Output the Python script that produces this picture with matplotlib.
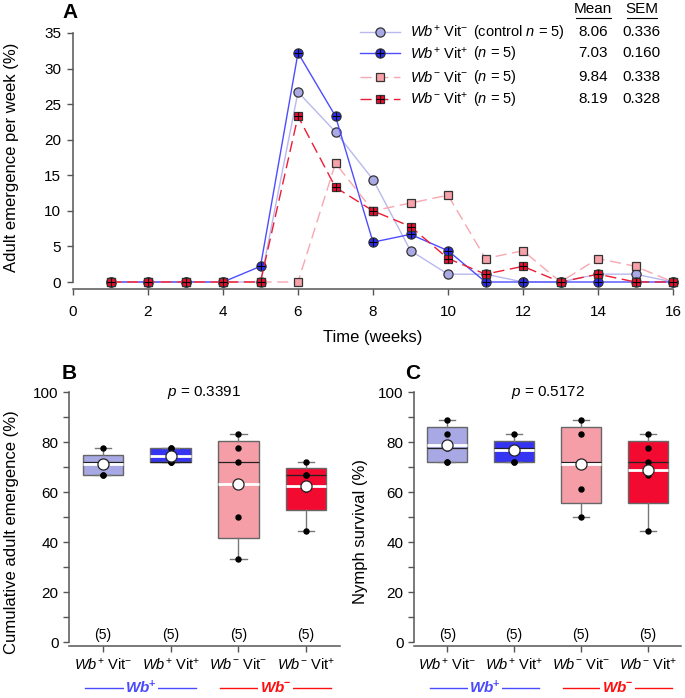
import numpy as np
import matplotlib
matplotlib.use('Agg')
import matplotlib.pyplot as plt

plt.rcParams['font.family'] = ['Liberation Sans', 'DejaVu Sans']
plt.rcParams['mathtext.fontset'] = 'custom'
plt.rcParams['mathtext.rm'] = 'Liberation Sans'
plt.rcParams['mathtext.it'] = 'Liberation Sans:italic'
plt.rcParams['mathtext.bf'] = 'Liberation Sans:bold'
plt.rcParams['mathtext.bfit'] = 'Liberation Sans:bold:italic'

# ---- data: weekly adult emergence (%) ----
weeks    = np.arange(1, 17)
wbp_vitm = [0, 0, 0, 0, 0, 26.7, 21.1, 14.4, 4.4, 1.1, 1.1, 0, 0, 1.1, 1.1, 0]
wbp_vitp = [0, 0, 0, 0, 2.2, 32.2, 23.3, 5.6, 6.7, 4.4, 0, 0, 0, 0, 0, 0]
wbm_vitm = [0, 0, 0, 0, 0, 0, 16.7, 10.0, 11.1, 12.2, 3.3, 4.4, 0, 3.3, 2.2, 0]
wbm_vitp = [0, 0, 0, 0, 0, 23.3, 13.3, 10.0, 7.8, 3.3, 1.1, 2.2, 0, 1.1, 0, 0]
mean_txt = ['8.06', '7.03', '9.84', '8.19']
sem_txt  = ['0.336', '0.160', '0.338', '0.328']

# ---- data: per-replicate values for B and C ----
cum_emerg = [[66.7, 66.7, 72.2, 72.2, 77.8],
             [72.2, 72.2, 72.2, 77.8, 77.8],
             [33.3, 50.0, 72.2, 77.8, 83.3],
             [44.4, 61.1, 66.7, 66.7, 72.2]]
nymph_surv = [[72.2, 72.2, 77.8, 83.3, 88.9],
              [72.2, 72.2, 77.8, 77.8, 83.3],
              [50.0, 61.1, 72.2, 83.3, 88.9],
              [44.4, 66.7, 72.2, 77.8, 83.3]]
n_rep   = [5, 5, 5, 5]
p_emerg = '0.3391'
p_surv  = '0.5172'

cat_labels = [r'$\mathit{Wb}^{+}$ Vit$^{-}$', r'$\mathit{Wb}^{+}$ Vit$^{+}$',
              r'$\mathit{Wb}^{-}$ Vit$^{-}$', r'$\mathit{Wb}^{-}$ Vit$^{+}$']
leg_par = [r'(control $\mathit{n}$ = 5)', r'($\mathit{n}$ = 5)', r'($\mathit{n}$ = 5)', r'($\mathit{n}$ = 5)']

fill_cols = ['#a9a9e6', '#2a2af5', '#f7a1aa', '#f20a2e']
line_cols = ['#b8b8ee', '#4d4dff', '#f7a7b0', '#ee1c34']
box_cols  = ['#a8a8e4', '#3434f2', '#f69ea8', '#f20a30']
spine_c   = '#555555'

W, H = 685, 698
fig = plt.figure(figsize=(W/100, H/100), dpi=100)

def px_axes(l, r, top, bot):
  return fig.add_axes([l/W, 1-bot/H, (r-l)/W, (bot-top)/H])

def style_axes(ax, out):
  for s in ['top', 'right']:
    ax.spines[s].set_visible(False)
  for s in ['left', 'bottom']:
    ax.spines[s].set_color(spine_c)
    ax.spines[s].set_linewidth(1.1)
  ax.spines['bottom'].set_position(('outward', out))
  ax.tick_params(which='both', direction='out', length=4.5, width=1.0, color=spine_c, labelsize=11)

# ================= panel A =================
axA = px_axes(73, 673, 33, 282)
style_axes(axA, 5)
axA.set_xlim(0, 16)
axA.set_ylim(0, 35)
axA.spines['left'].set_bounds(0, 35)
axA.set_xticks(np.arange(0, 17, 2))
axA.set_yticks(np.arange(0, 36, 5))
axA.tick_params(axis='x', pad=7)
axA.tick_params(axis='y', pad=4)

series = [wbp_vitm, wbp_vitp, wbm_vitm, wbm_vitp]
styles = ['-', '-', (0, (8, 4)), (0, (8, 4))]
marks  = ['o', 'o', 's', 's']
msz    = [6.6, 6.6, 6.0, 6.0]
cross  = [False, True, False, True]
for i, y in enumerate(series):
  z = 3 + i
  axA.plot(weeks, y, color=line_cols[i], lw=1.0, ls=styles[i], marker=marks[i], ms=msz[i],
           mfc=fill_cols[i], mec='#333333', mew=0.9, clip_on=False, zorder=z)
  if cross[i]:
    axA.plot(weeks, y, ls='none', marker='+', ms=msz[i]-0.6, mew=0.8, color='black',
             clip_on=False, zorder=z)

axA.set_ylabel('Adult emergence per week (%)', fontsize=12, va='center')
axA.yaxis.set_label_coords(-0.102, 0.5)
axA.set_xlabel('Time (weeks)', fontsize=12, va='center')
axA.xaxis.set_label_coords(0.5, -0.221)

# legend drawn by hand so the Mean / SEM columns line up
row_y = [1.004, 0.918, 0.822, 0.735]
for i in range(4):
  axA.plot([0.478, 0.545], [row_y[i]]*2, transform=axA.transAxes, color=line_cols[i], lw=1.0,
           ls=styles[i], clip_on=False)
  axA.plot([0.5115], [row_y[i]], transform=axA.transAxes, marker=marks[i], ms=msz[i],
           mfc=fill_cols[i], mec='#333333', mew=0.9, clip_on=False)
  if cross[i]:
    axA.plot([0.5115], [row_y[i]], transform=axA.transAxes, marker='+', ms=msz[i]-0.6,
             mew=0.8, color='black', clip_on=False)
  axA.text(0.561, row_y[i], cat_labels[i], transform=axA.transAxes, fontsize=10.5, va='center')
  axA.text(0.666, row_y[i], leg_par[i], transform=axA.transAxes, fontsize=10.5, va='center')
  axA.text(0.867, row_y[i], mean_txt[i], transform=axA.transAxes, fontsize=11, va='center', ha='center')
  axA.text(0.948, row_y[i], sem_txt[i], transform=axA.transAxes, fontsize=11, va='center', ha='center')
axA.text(0.867, 1.096, 'Mean', transform=axA.transAxes, fontsize=11, va='center', ha='center')
axA.text(0.948, 1.096, 'SEM', transform=axA.transAxes, fontsize=11, va='center', ha='center')
axA.plot([0.838, 0.896], [1.060, 1.060], transform=axA.transAxes, color='black', lw=0.8, clip_on=False)
axA.plot([0.923, 0.973], [1.060, 1.060], transform=axA.transAxes, color='black', lw=0.8, clip_on=False)
fig.text(70/W, 1-13/H, 'A', fontsize=15, fontweight='bold', ha='center', va='center')

# ================= panels B and C =================
def box_panel(ax, vals, ylab, ptxt, ylab_x):
  style_axes(ax, 3)
  pos = np.arange(1, 5)
  stats = []
  for v in vals:
    q1, med, q3 = np.percentile(v, [25, 50, 75], method='weibull')
    stats.append(dict(med=med, q1=q1, q3=q3, whislo=min(v), whishi=max(v),
                      mean=np.mean(v), fliers=[]))
  bp = ax.bxp(stats, positions=pos, widths=0.6, patch_artist=True, showmeans=True,
              meanline=True, showfliers=False, capwidths=0.24,
              boxprops=dict(edgecolor='#666666', lw=1.0),
              whiskerprops=dict(color='#777777', lw=1.0),
              capprops=dict(color='#777777', lw=1.0),
              medianprops=dict(color='#222222', lw=0.9),
              meanprops=dict(color='white', lw=2.0, ls='-'))
  for patch, c in zip(bp['boxes'], box_cols):
    patch.set_facecolor(c)
  for m in bp['means']:
    m.set_zorder(3)
  for p, v in zip(pos, vals):
    ax.plot([p]*len(v), v, ls='none', marker='o', ms=3.6, color='black', zorder=4)
    ax.plot([p], [np.mean(v)], ls='none', marker='o', ms=8, mfc='white', mec='#222222',
            mew=0.9, zorder=5)
  for p, n in zip(pos, n_rep):
    ax.text(p, 3.0, '(%d)' % n, ha='center', va='center', fontsize=10)
  ax.text(2.5, 100, r'$\mathit{p}$ = ' + ptxt, ha='center', va='center', fontsize=11)
  ax.set_xlim(0.5, 4.5)
  ax.set_ylim(0, 100)
  ax.spines['left'].set_bounds(0, 100)
  ax.set_yticks(np.arange(0, 101, 20))
  ax.set_yticks(np.arange(10, 100, 20), minor=True)
  ax.set_xticks(pos)
  ax.set_xticklabels(cat_labels, fontsize=10.5)
  ax.tick_params(axis='x', pad=3)
  ax.tick_params(axis='y', pad=3)
  ax.set_ylabel(ylab, fontsize=12, va='center')
  ax.yaxis.set_label_coords(ylab_x, 0.44)
  # Wb+ / Wb- group bars under the tick labels
  tr = ax.get_xaxis_transform()
  ax.plot([0.74, 2.38], [-0.184]*2, transform=tr, color='#4a4aff', lw=1.0, clip_on=False)
  ax.plot([2.73, 4.37], [-0.184]*2, transform=tr, color='#ff1010', lw=1.0, clip_on=False)
  ax.text(1.56, -0.184, r'$\mathbfit{Wb}^{\mathbf{+}}$', transform=tr, color='#4a4aff', fontsize=11,
          ha='center', va='center', bbox=dict(fc='white', ec='none', pad=1.0))
  ax.text(3.55, -0.184, r'$\mathbfit{Wb}^{\mathbf{-}}$', transform=tr, color='#ff1010', fontsize=11,
          ha='center', va='center', bbox=dict(fc='white', ec='none', pad=1.0))

axB = px_axes(69, 340, 392, 642)
box_panel(axB, cum_emerg, 'Cumulative adult emergence (%)', p_emerg, -0.214)
axC = px_axes(414, 681, 392, 642)
box_panel(axC, nymph_surv, 'Nymph survival (%)', p_surv, -0.2)
fig.text(69/W, 1-373/H, 'B', fontsize=15, fontweight='bold', ha='center', va='center')
fig.text(413/W, 1-373/H, 'C', fontsize=15, fontweight='bold', ha='center', va='center')

fig.savefig('out.png', dpi=100)
